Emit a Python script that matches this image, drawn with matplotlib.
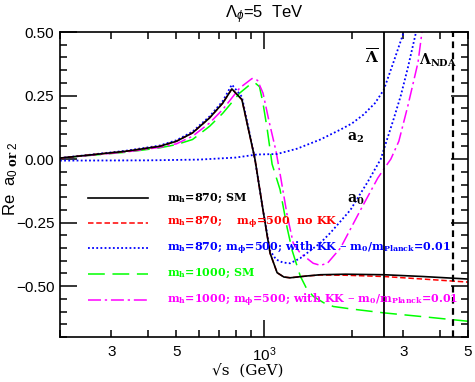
import numpy as np
import matplotlib
matplotlib.use("Agg")
import matplotlib.pyplot as plt
from matplotlib.ticker import FixedLocator, FixedFormatter, MultipleLocator

plt.rcParams['font.family'] = ['Liberation Sans', 'DejaVu Sans']
plt.rcParams['mathtext.fontset'] = 'custom'
plt.rcParams['mathtext.rm'] = 'Liberation Sans'
plt.rcParams['mathtext.it'] = 'Liberation Sans:italic'
plt.rcParams['mathtext.bf'] = 'DejaVu Serif:bold'

# data (sqrt(s) in GeV, Re a0 / a2)
x_sm870 = [200, 337, 438, 501, 569, 651, 722, 776, 840, 895, 931, 992, 1049, 1109,
           1170, 1229, 1400, 1560, 1900, 2572, 3500, 5000]
y_sm870 = [0.004, 0.031, 0.05, 0.07, 0.103, 0.162, 0.22, 0.276, 0.234, 0.09, 0.0, -0.2,
           -0.37, -0.447, -0.464, -0.467, -0.46, -0.455, -0.453, -0.455, -0.462, -0.472]

x_nokk = [200, 337, 438, 501, 569, 651, 722, 776, 840, 895, 931, 992, 1049, 1109,
          1170, 1229, 1400, 1560, 1900, 2572, 3500, 5000]
y_nokk = [0.004, 0.031, 0.05, 0.07, 0.103, 0.162, 0.22, 0.276, 0.234, 0.09, 0.0, -0.2,
          -0.37, -0.447, -0.464, -0.467, -0.46, -0.456, -0.457, -0.462, -0.472, -0.484]

x_kk870_a0 = [200, 337, 438, 501, 569, 651, 722, 776, 840, 895, 931, 992, 1049, 1100,
              1160, 1229, 1331, 1441, 1560, 1689, 1828, 1978, 2142, 2266, 2512, 2785,
              2943, 3112, 3319, 3600]
y_kk870_a0 = [0.004, 0.033, 0.053, 0.074, 0.108, 0.168, 0.228, 0.293, 0.245, 0.095, 0.0,
              -0.2, -0.36, -0.395, -0.407, -0.41, -0.39, -0.36, -0.33, -0.29, -0.245,
              -0.2, -0.135, -0.09, 0.0, 0.16, 0.25, 0.36, 0.5, 0.68]

x_kk870_a2 = [200, 400, 600, 800, 946, 1109, 1299, 1560, 1828, 2000, 2193, 2400, 2572,
              2785, 3013, 3300]
y_kk870_a2 = [-0.006, -0.005, -0.002, 0.006, 0.018, 0.02, 0.041, 0.077, 0.116, 0.14,
              0.175, 0.22, 0.272, 0.385, 0.5, 0.65]

x_sm1000 = [200, 337, 438, 501, 569, 651, 722, 826, 895, 931, 965, 992, 1025, 1066, 1135,
            1200, 1249, 1331, 1400, 1475, 1600, 1729, 2000, 2572, 3500, 5000]
y_sm1000 = [0.004, 0.027, 0.044, 0.057, 0.077, 0.129, 0.18, 0.26, 0.293, 0.30, 0.285, 0.22,
            0.12, -0.02, -0.12, -0.27, -0.36, -0.46, -0.51, -0.54, -0.565, -0.58, -0.59,
            -0.605, -0.62, -0.638]

x_kk1000 = [200, 337, 438, 501, 569, 651, 722, 826, 910, 950, 992, 1040, 1100, 1144, 1200,
            1259, 1331, 1475, 1560, 1649, 1828, 2142, 2453, 2572, 2720, 2897, 3112, 3370,
            3478, 3700]
y_kk1000 = [0.004, 0.028, 0.046, 0.06, 0.09, 0.142, 0.195, 0.28, 0.317, 0.31, 0.26, 0.15,
            0.03, -0.08, -0.22, -0.33, -0.37, -0.41, -0.418, -0.41, -0.35, -0.2, -0.075,
            -0.04, 0.0, 0.07, 0.21, 0.38, 0.5, 0.7]

lambda_bar = 2572
lambda_nda = 4450

labels = [r'm$_\mathbf{h}$=870; SM',
          r'm$_\mathbf{h}$=870;    m$_\mathbf{\phi}$=500  no KK',
          r'm$_\mathbf{h}$=870; m$_\mathbf{\phi}$=500; with KK $-$ m$_\mathbf{0}$/m$_\mathbf{Planck}$=0.01',
          r'm$_\mathbf{h}$=1000; SM',
          r'm$_\mathbf{h}$=1000; m$_\mathbf{\phi}$=500; with KK $-$ m$_\mathbf{0}$/m$_\mathbf{Planck}$=0.01']
colors = ['black', '#ff0000', '#0000ff', '#00ff00', '#ff00ff']
styles = ['-', (0, (3.6, 1.8)), (0, (1, 1.3)), (0, (11, 5)), (0, (8.5, 2.5, 1.5, 2.5))]
widths = [1.2, 1.1, 1.3, 1.1, 1.1]

yticks = [-0.5, -0.25, 0.0, 0.25, 0.5]
ytick_labels = ['\u22120.50', '\u22120.25', '0.00', '0.25', '0.50']
xminor = [200, 300, 400, 500, 600, 700, 800, 900, 2000, 3000, 4000, 5000]
xminor_labels = ['', '3', '', '5', '', '', '', '', '', '3', '', '5']

fig = plt.figure(figsize=(4.75, 3.82), dpi=100)
ax = fig.add_axes([60/475, 45/382, 408/475, 305/382])

ax.plot(x_sm1000, y_sm1000, color=colors[3], ls=styles[3], lw=widths[3])
ax.plot(x_kk1000, y_kk1000, color=colors[4], ls=styles[4], lw=widths[4])
ax.plot(x_kk870_a2, y_kk870_a2, color=colors[2], ls=styles[2], lw=widths[2])
ax.plot(x_kk870_a0, y_kk870_a0, color=colors[2], ls=styles[2], lw=widths[2])
ax.plot(x_nokk, y_nokk, color=colors[1], ls=styles[1], lw=widths[1])
ax.plot(x_sm870, y_sm870, color=colors[0], ls=styles[0], lw=widths[0])

ax.axvline(lambda_bar, color='black', lw=1.3)
ax.axvline(lambda_nda, color='black', lw=1.6, ls=(0, (3, 2)))

ax.set_xscale('log')
ax.set_xlim(200, 5000)
ax.set_ylim(-0.7, 0.5)

ax.xaxis.set_major_locator(FixedLocator([1000]))
ax.xaxis.set_major_formatter(FixedFormatter([r'$10^3$']))
ax.xaxis.set_minor_locator(FixedLocator(xminor))
ax.xaxis.set_minor_formatter(FixedFormatter(xminor_labels))
ax.yaxis.set_major_locator(FixedLocator(yticks))
ax.yaxis.set_major_formatter(FixedFormatter(ytick_labels))
ax.yaxis.set_minor_locator(MultipleLocator(0.05))

ax.tick_params(which='both', direction='in', top=True, right=True, labelsize=11, width=1.1)
ax.tick_params(which='major', length=12)
ax.tick_params(which='minor', length=5)
ax.tick_params(axis='x', which='both', pad=6)
ax.tick_params(axis='y', which='both', pad=4)
for s in ax.spines.values():
    s.set_linewidth(1.2)

# legend drawn by hand, like the original
rows = [0.456, 0.374, 0.292, 0.207, 0.121]
for lab, c, st, w, r in zip(labels, colors, styles, widths, rows):
    ax.plot([0.069, 0.216], [r, r], transform=ax.transAxes, color=c, ls=st, lw=w)
    ax.text(0.262, r, lab, transform=ax.transAxes, color=c, va='center', ha='left',
            fontsize=8, family='DejaVu Serif', weight='bold')

ax.text(2339, 0.40, r'$\mathbf{\overline{\Lambda}}$', fontsize=11, ha='center', va='center')
ax.text(3950, 0.39, r'$\mathbf{\Lambda_{NDA}}$', fontsize=10, ha='center', va='center')
ax.text(2060, 0.085, r'$\mathbf{a_2}$', fontsize=10, ha='center', va='center')
ax.text(2060, -0.16, r'$\mathbf{a_0}$', fontsize=10, ha='center', va='center')

ax.set_title(r'$\Lambda_{\phi}$=5  TeV', fontsize=12, pad=10)
ax.set_xlabel('\u221as  (GeV)', family='DejaVu Serif', fontsize=11)
ax.xaxis.set_label_coords(0.46, -0.087)
ax.set_ylabel(r'Re  a$_{0\ \mathbf{or}\ 2}$', fontsize=12)
ax.yaxis.set_label_coords(-0.098, 0.52)

fig.savefig('out.png', dpi=100)
